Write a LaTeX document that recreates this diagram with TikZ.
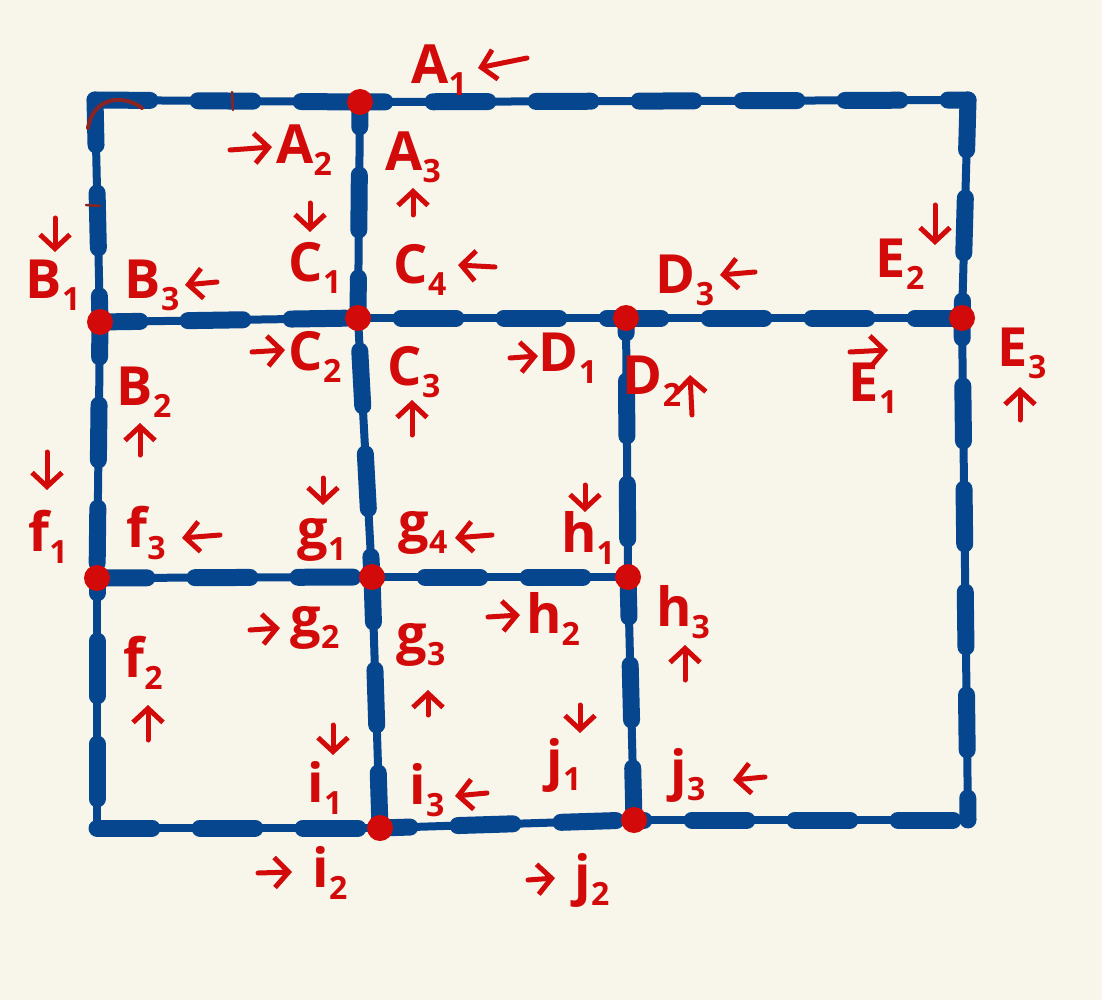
\documentclass[tikz,border=0pt]{standalone}
\usepackage{fontspec}
\setmainfont{Open Sans}
\usetikzlibrary{positioning, arrows.meta}
\definecolor{azulTrazo}{HTML}{05468F}
\definecolor{rojoMarca}{HTML}{D20A0A}
\definecolor{rojoOscuro}{HTML}{8A2424}
\definecolor{fondo}{HTML}{F8F6EA}
\newcommand{\subidx}[1]{\raisebox{-0.22em}{\fontsize{32}{32}\selectfont #1}}

\begin{document}
\begin{tikzpicture}[
  x=1pt, y=-1pt,
  trazo/.style={azulTrazo, line width=8pt, line cap=round},
  grueso/.style={azulTrazo, line width=17pt, line cap=round, dash pattern=on 55pt off 48pt},
  marca/.style={-{Straight Barb[length=14pt, width=30pt]}, rojoMarca, line width=5pt, line cap=round, line join=round},
  lbl/.style={rojoMarca, font=\fontsize{54}{54}\selectfont\bfseries, inner sep=0pt}
]
  % --- Fondo ---
  \fill[fondo] (0,0) rectangle (1102,1000);
  \useasboundingbox (0,0) rectangle (1102,1000);

  % --- Esquinas y cruces ---
  \coordinate (tl) at (95,100);
  \coordinate (tr) at (968,100);
  \coordinate (bl) at (97,828);
  \coordinate (br) at (968,820);
  \coordinate (a) at (360,102);
  \coordinate (b) at (100,322);
  \coordinate (c) at (358,318);
  \coordinate (d) at (626,318);
  \coordinate (e) at (962,318);
  \coordinate (f) at (97,578);
  \coordinate (g) at (372,577);
  \coordinate (h) at (628,577);
  \coordinate (i) at (380,828);
  \coordinate (j) at (634,820);

  % --- Red (trazo base + manchas) ---
  \foreach \p/\q/\f in {tl/a/0, a/tr/30, tl/b/10, b/f/20, f/bl/40, tr/e/5, e/br/35,
                        bl/i/0, i/j/25, j/br/45, b/c/15, c/d/60, d/e/20,
                        f/g/5, g/h/50, a/c/30, c/g/70, g/i/10, d/h/40, h/j/15}
  {
    \draw[trazo] (\p) -- (\q);
    \draw[grueso, dash phase=\f pt] (\p) -- (\q);
  }

  % --- Nodos (puntos rojos) ---
  \foreach \n in {a,b,c,d,e,f,g,h,i,j}
    \fill[rojoMarca] (\n) circle (13pt);

  % --- Marcas sueltas ---
  \draw[rojoOscuro, line width=4pt, line cap=round] (88,128) .. controls (92,100) and (120,92) .. (142,108);
  \draw[rojoOscuro, line width=2.5pt, line cap=round] (232,92) -- (233,110);
  \draw[rojoOscuro, line width=2.5pt, line cap=round] (86,205) -- (100,206);

  % --- Fila A ---
  \node[lbl] (A1) at (439,70) {A\subidx{1}};
  \draw[marca] (527,58) -- (478,68);
  \node[lbl] (A2) at (304,150) {A\subidx{2}};
  \draw[marca] (230,150) -- (272,147);
  \node[lbl] (A3) at (413,157) {A\subidx{3}};
  \draw[marca] (413,215) -- (413,188);

  % --- B, C, D, E (arriba) ---
  \node[lbl] (B1) at (53,285) {B\subidx{1}};
  \draw[marca] (55,218) -- (55,252);
  \node[lbl] (B3) at (152,285) {B\subidx{3}};
  \draw[marca] (217,282) -- (185,285);
  \node[lbl] (C1) at (315,268) {C\subidx{1}};
  \draw[marca] (310,203) -- (310,232);
  \node[lbl] (C4) at (420,270) {C\subidx{4}};
  \draw[marca] (495,267) -- (458,265);
  \node[lbl] (D3) at (685,280) {D\subidx{3}};
  \draw[marca] (755,272) -- (720,275);
  \node[lbl] (E2) at (900,264) {E\subidx{2}};
  \draw[marca] (935,205) -- (935,245);

  % --- B, C, D, E (abajo) ---
  \node[lbl] (C2) at (315,357) {C\subidx{2}};
  \draw[marca] (252,352) -- (285,350);
  \node[lbl] (C3) at (414,372) {C\subidx{3}};
  \draw[marca] (412,435) -- (412,400);
  \node[lbl] (D1) at (568,358) {D\subidx{1}};
  \draw[marca] (510,358) -- (538,356);
  \node[lbl] (D2) at (652,381) {D\subidx{2}};
  \draw[marca] (692,415) -- (690,375);
  \node[lbl] (E1) at (873,388) {E\subidx{1}};
  \draw[marca] (850,352) -- (888,350);
  \node[lbl] (E3) at (1022,353) {E\subidx{3}};
  \draw[marca] (1020,420) -- (1020,387);
  \node[lbl] (B2) at (144,392) {B\subidx{2}};
  \draw[marca] (140,455) -- (140,423);

  % --- f, g, h ---
  \node[lbl] (f1) at (48,537) {f\subidx{1}};
  \draw[marca] (47,452) -- (47,490);
  \node[lbl] (f3) at (146,533) {f\subidx{3}};
  \draw[marca] (220,535) -- (182,538);
  \node[lbl] (g1) at (322,540) {g\subidx{1}};
  \draw[marca] (323,478) -- (323,505);
  \node[lbl] (g4) at (423,533) {g\subidx{4}};
  \draw[marca] (492,535) -- (455,538);
  \node[lbl] (h1) at (588,538) {h\subidx{1}};
  \draw[marca] (585,485) -- (585,512);
  \node[lbl] (g2) at (315,628) {g\subidx{2}};
  \draw[marca] (250,630) -- (280,628);
  \node[lbl] (h2) at (553,619) {h\subidx{2}};
  \draw[marca] (488,617) -- (520,615);
  \node[lbl] (g3) at (421,645) {g\subidx{3}};
  \draw[marca] (428,715) -- (428,690);
  \node[lbl] (h3) at (683,612) {h\subidx{3}};
  \draw[marca] (685,680) -- (685,645);
  \node[lbl] (f2) at (143,663) {f\subidx{2}};
  \draw[marca] (148,740) -- (148,705);

  % --- i, j ---
  \node[lbl] (i1) at (325,788) {i\subidx{1}};
  \draw[marca] (333,725) -- (333,755);
  \node[lbl] (i3) at (427,790) {i\subidx{3}};
  \draw[marca] (487,793) -- (455,796);
  \node[lbl] (j1) at (564,765) {j\subidx{1}};
  \draw[marca] (580,705) -- (580,733);
  \node[lbl] (j3) at (688,775) {j\subidx{3}};
  \draw[marca] (765,777) -- (733,780);
  \node[lbl] (i2) at (330,873) {i\subidx{2}};
  \draw[marca] (258,873) -- (292,872);
  \node[lbl] (j2) at (592,880) {j\subidx{2}};
  \draw[marca] (528,880) -- (555,878);
\end{tikzpicture}
\end{document}
